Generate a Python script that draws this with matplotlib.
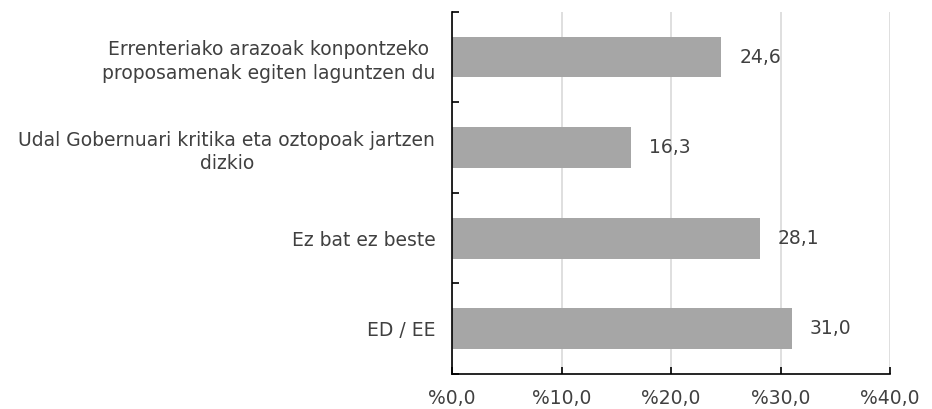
import numpy as np
import matplotlib.pyplot as plt

categories = [
    "Errenteriako arazoak konpontzeko\nproposamenak egiten laguntzen du",
    "Udal Gobernuari kritika eta oztopoak jartzen\ndizkio",
    "Ez bat ez beste",
    "ED / EE",
]
values = [24.6, 16.3, 28.1, 31.0]
xticks = [0, 10, 20, 30, 40]

plt.rcParams['font.family'] = ['DejaVu Sans']
text_color = "#404040"
fs = 13.5

fig = plt.figure(figsize=(9.32, 4.09), dpi=100)
ax = fig.add_axes([0.485, 0.0856, 0.955 - 0.485, 0.971 - 0.0856])

y = np.arange(len(categories))[::-1]
ax.barh(y, values, height=0.45, color="#A6A6A6", zorder=2)

for yi, v in zip(y, values):
    ax.text(v + 1.65, yi, f"{v:.1f}".replace(".", ","), va="center", ha="left",
            fontsize=fs, color=text_color)

ax.set_xlim(0, 40)
ax.set_ylim(-0.5, len(categories) - 0.5)
ax.set_xticks(xticks)
ax.set_xticklabels([f"%{t:.1f}".replace(".", ",") for t in xticks], fontsize=fs, color=text_color)
ax.tick_params(axis="x", length=5, width=1.2, direction="in", pad=11)
ax.grid(axis="x", color="#D9D9D9", linewidth=1.2, zorder=0)

ax.set_yticks(y)
ax.set_yticklabels(categories, fontsize=fs, color=text_color, ha="right",
                   multialignment="center", linespacing=1.3)
ax.tick_params(axis="y", which="major", length=0, pad=12)
ax.set_yticks(np.arange(-0.5, len(categories), 1.0), minor=True)
ax.tick_params(axis="y", which="minor", length=5, width=1.2, direction="in")

for s in ["top", "right"]:
    ax.spines[s].set_visible(False)
for s in ["left", "bottom"]:
    ax.spines[s].set_linewidth(1.2)

fig.savefig("out.png", dpi=100)
